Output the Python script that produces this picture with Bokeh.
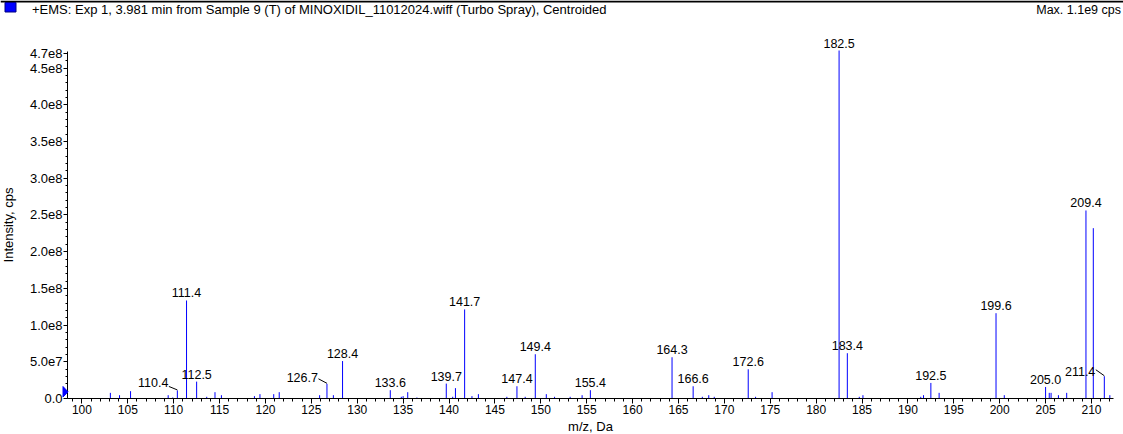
from bokeh.plotting import figure
from bokeh.models import (Range1d, FixedTicker, CustomJSTickFormatter, LabelSet,
                          ColumnDataSource)
from bokeh.core.properties import value
from bokeh.embed import file_html
from bokeh.resources import INLINE

# ---------------- data ----------------
header_text = "+EMS: Exp 1, 3.981 min from Sample 9 (T) of MINOXIDIL_11012024.wiff (Turbo Spray), Centroided"
max_text = "Max. 1.1e9 cps"
x_label = "m/z, Da"
y_label = "Intensity, cps"

labeled_mz = [110.4, 111.4, 112.5, 126.7, 128.4, 133.6, 139.7, 141.7, 147.4, 149.4, 155.4,
              164.3, 166.6, 172.6, 182.5, 183.4, 192.5, 199.6, 205.0, 209.4, 211.4]
labeled_int = [1.1e7, 1.335e8, 2.3e7, 2.0e7, 5.1e7, 1.13e7, 2.03e7, 1.213e8, 1.67e7, 6.03e7, 1.13e7,
               5.62e7, 1.67e7, 3.98e7, 4.74e8, 6.17e7, 2.12e7, 1.162e8, 1.57e7, 2.561e8, 3.03e7]

minor_mz = [103.1, 104.1, 105.3, 109.4, 109.9, 113.6, 114.5, 115.2, 118.8, 119.4, 120.9, 121.5,
            125.9, 127.4, 134.8, 135.0, 135.5, 136.5, 140.4, 140.7, 142.5, 143.2, 146.3, 148.3,
            150.6, 151.5, 153.2, 154.5, 167.6, 168.3, 168.9, 173.4, 175.2, 184.7, 185.1, 191.4,
            191.7, 193.4, 200.5, 205.4, 205.6, 206.4, 207.3, 210.2, 212.0]
minor_int = [7.7e6, 4.5e6, 1.0e7, 4.5e6, 1.4e6, 2.3e6, 8.6e6, 4.5e6, 3.2e6, 5.9e6, 5.9e6, 8.6e6,
             4.5e6, 4.5e6, 2.3e6, 3.2e6, 8.6e6, 1.4e6, 2.3e6, 1.41e7, 3.2e6, 5.9e6, 2.3e6, 2.3e6,
             5.9e6, 2.3e6, 2.3e6, 4.5e6, 2.3e6, 4.5e6, 2.3e6, 2.3e6, 8.6e6, 2.3e6, 4.5e6, 2.3e6,
             4.5e6, 7.7e6, 4.5e6, 7.7e6, 7.7e6, 4.5e6, 7.7e6, 2.32e8, 4.5e6]

leader_labels = ["110.4", "126.7", "211.4"]

x_ticks = [100, 105, 110, 115, 120, 125, 130, 135, 140, 145, 150, 155, 160, 165, 170,
           175, 180, 185, 190, 195, 200, 205, 210]
x_minor_ticks = list(range(98, 213))
y_ticks = [0, 5e7, 1e8, 1.5e8, 2e8, 2.5e8, 3e8, 3.5e8, 4e8, 4.5e8, 4.7e8]
y_minor_ticks = [i * 1e7 for i in range(0, 48)]

# ---------------- layout / scales ----------------
W, H = 1123, 434
FL, FR, FB = 67, 1113, 398
FT = 16                     # frame top (extended so peak labels are not clipped)
X0, X1 = 98.43, 212.4
Y_AXIS_TOP_PX = 50          # pixel where intensity 4.74e8 sits
Y_AXIS_TOP = 4.74e8
Y1 = Y_AXIS_TOP * (FB - FT) / (FB - Y_AXIS_TOP_PX)

FONT = "Liberation Sans"
BLUE = "#0000FF"
ABS = {"position": "absolute", "left": "0px", "top": "0px"}

p = figure(width=W, height=H, output_backend="svg", toolbar_location=None,
           x_range=Range1d(X0, X1), y_range=Range1d(0, Y1),
           min_border_left=FL, min_border_right=W - FR, min_border_top=FT, min_border_bottom=H - FB,
           background_fill_color="white", border_fill_color="white", outline_line_color=None,
           styles=ABS)
p.grid.visible = False

xa = p.xaxis[0]
xa.ticker = FixedTicker(ticks=x_ticks, minor_ticks=x_minor_ticks)
xa.major_tick_in = 0
xa.major_tick_out = 5
xa.minor_tick_in = 0
xa.minor_tick_out = 3
xa.major_label_standoff = 1
xa.major_label_text_font = FONT
xa.major_label_text_font_size = "12px"
xa.major_label_text_color = "black"
xa.axis_line_color = "black"
xa.major_tick_line_color = "black"
xa.minor_tick_line_color = "black"

ya = p.yaxis[0]
ya.ticker = FixedTicker(ticks=y_ticks, minor_ticks=y_minor_ticks)
ya.formatter = CustomJSTickFormatter(
    code="return tick == 0 ? '0.0' : tick.toExponential(1).replace('e+', 'e');")
ya.bounds = (0, 4.72e8)
ya.major_tick_in = 0
ya.major_tick_out = 4
ya.minor_tick_in = 0
ya.minor_tick_out = 2
ya.major_label_standoff = 1
ya.major_label_text_font = FONT
ya.major_label_text_font_size = "13px"
ya.major_label_text_color = "black"
ya.axis_line_color = "black"
ya.major_tick_line_color = "black"
ya.minor_tick_line_color = "black"

# ---------------- peaks ----------------
all_mz = labeled_mz + minor_mz
all_int = labeled_int + minor_int
bars = ColumnDataSource(dict(mz=all_mz, inten=all_int))
p.segment(x0="mz", y0=0, x1="mz", y1="inten", source=bars, line_color=BLUE, line_width=1)

lab_txt = ["%.1f" % m for m in labeled_mz]
c_idx = [i for i, t in enumerate(lab_txt) if t not in leader_labels]
l_idx = [i for i, t in enumerate(lab_txt) if t in leader_labels]

src_c = ColumnDataSource(dict(mz=[labeled_mz[i] for i in c_idx],
                              inten=[labeled_int[i] for i in c_idx],
                              label=[lab_txt[i] for i in c_idx]))
p.add_layout(LabelSet(x="mz", y="inten", text="label", source=src_c, text_align="center",
                      text_baseline="alphabetic", y_offset=3, text_font=value(FONT),
                      text_font_size="12.5px", text_color="black"))

lead_yoff = [3, 2, 0]
lead_start_dy = [4, 5, 6.5]
src_l = ColumnDataSource(dict(mz=[labeled_mz[i] for i in l_idx],
                              inten=[labeled_int[i] for i in l_idx],
                              label=[lab_txt[i] for i in l_idx],
                              yoff=lead_yoff))
p.add_layout(LabelSet(x="mz", y="inten", text="label", source=src_l, text_align="right",
                      text_baseline="alphabetic", x_offset=-9, y_offset="yoff",
                      text_font=value(FONT), text_font_size="12.5px", text_color="black"))

dxu = (X1 - X0) / (FR - FL)
dyu = Y1 / (FB - FT)
lx0 = [labeled_mz[i] - 8.5 * dxu for i in l_idx]
ly0 = [labeled_int[i] + d * dyu for i, d in zip(l_idx, lead_start_dy)]
lx1 = [labeled_mz[i] for i in l_idx]
ly1 = [labeled_int[i] + 0.5 * dyu for i in l_idx]
p.segment(x0=lx0, y0=ly0, x1=lx1, y1=ly1, line_color="black", line_width=1)

# ---------------- overlay: header, axis titles, marker (page pixel coords) ----------------
ov = figure(width=W, height=H, output_backend="svg", toolbar_location=None,
            x_range=Range1d(0, W), y_range=Range1d(H, 0),
            x_axis_type=None, y_axis_type=None, min_border=0,
            background_fill_color=None, border_fill_color=None, outline_line_color=None,
            styles=ABS)
ov.grid.visible = False

ov.quad(left=[0], right=[W], top=[0], bottom=[2], fill_color="black", line_color=None)
ov.quad(left=[4.5], right=[15.5], top=[2], bottom=[11.5], fill_color=BLUE, line_color="#000080",
        line_width=1)
ov.patch(x=[62.5, 67.5, 62.5], y=[386, 391.3, 396.5], fill_color=BLUE, line_color=BLUE)

def add_text(x, y, text, align, size, angle=0.0):
    src = ColumnDataSource(dict(x=[x], y=[y], t=[text]))
    ov.add_layout(LabelSet(x="x", y="y", text="t", source=src, text_align=align,
                           text_baseline="alphabetic", angle=angle, text_font=value(FONT),
                           text_font_size=size, text_color="black"))

add_text(31.5, 13.5, header_text, "left", "13px")
add_text(1120.5, 13.5, max_text, "right", "12.5px")
add_text((FL + FR) / 2, 430.5, x_label, "center", "13px")
add_text(12.5, 224.5, y_label, "center", "13px", angle=1.5707963267948966)

open("out.html", "w").write(file_html([p, ov], INLINE))
